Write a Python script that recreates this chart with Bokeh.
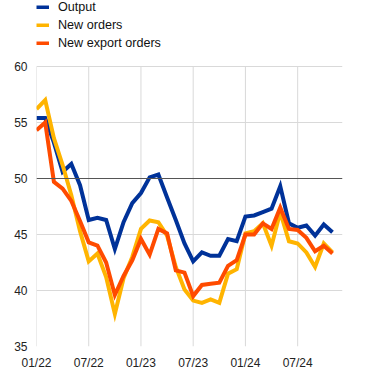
from bokeh.plotting import figure
from bokeh.models import ColumnDataSource, FixedTicker, Span, Legend, LegendItem, Range1d
from bokeh.embed import file_html
from bokeh.resources import INLINE

months = list(range(35))
tick_positions = [0, 6, 12, 18, 24, 30]
tick_labels = ["01/22", "07/22", "01/23", "07/23", "01/24", "07/24"]
y_ticks = [35, 40, 45, 50, 55, 60]
y_min, y_max = 35, 60

output = [55.4, 55.4, 53.2, 50.6, 51.3, 49.4, 46.3, 46.5, 46.3, 43.7, 46.1, 47.8,
          48.7, 50.1, 50.35, 48.3, 46.3, 44.2, 42.6, 43.4, 43.1, 43.1, 44.6, 44.4,
          46.6, 46.7, 47.0, 47.3, 49.3, 46.0, 45.6, 45.8, 44.9, 45.9, 45.2]
new_orders = [56.2, 57.0, 53.6, 51.2, 48.5, 45.3, 42.6, 43.3, 41.2, 37.9, 41.1, 43.0,
              45.5, 46.25, 46.1, 44.9, 42.1, 40.1, 39.1, 38.9, 39.2, 38.9, 41.5, 41.9,
              45.1, 45.3, 46.0, 44.0, 47.0, 44.4, 44.2, 43.4, 42.1, 44.2, 43.4]
new_export_orders = [54.3, 55.0, 49.7, 49.1, 48.0, 46.2, 44.3, 44.0, 42.5, 39.6, 41.3, 42.7,
                     44.6, 43.2, 45.5, 45.1, 41.8, 41.6, 39.5, 40.5, 40.6, 40.7, 42.2, 42.7,
                     45.0, 45.0, 46.0, 45.5, 47.4, 45.5, 45.4, 44.7, 43.5, 44.0, 43.3]

series_names = ["Output", "New orders", "New export orders"]
colors = ["#003299", "#FFB400", "#FF4B00"]

src = ColumnDataSource(dict(x=months, output=output, new_orders=new_orders,
                            new_export_orders=new_export_orders))

# frame spans full height above the axis; extra headroom holds the legend
top_extra = (y_max - y_min) * 66 / 280
p = figure(width=371, height=374, output_backend="svg", toolbar_location=None,
           x_range=Range1d(0, 35.15), y_range=Range1d(y_min, y_max + top_extra),
           min_border_left=36, min_border_right=29, min_border_top=0, min_border_bottom=28)
p.outline_line_color = None
p.background_fill_color = "white"
p.border_fill_color = "white"

FONT = "Liberation Sans"
for ax in (p.xaxis, p.yaxis):
    ax.axis_line_color = None
    ax.major_tick_line_color = None
    ax.minor_tick_line_color = None
    ax.major_tick_out = 0
    ax.major_tick_in = 0
    ax.minor_tick_out = 0
    ax.major_label_text_font = FONT
    ax.major_label_text_font_size = "12px"
    ax.major_label_text_color = "#222222"
p.xaxis.ticker = FixedTicker(ticks=tick_positions)
p.xaxis.major_label_overrides = {t: l for t, l in zip(tick_positions, tick_labels)}
p.xaxis.major_label_standoff = 9
p.yaxis.ticker = FixedTicker(ticks=y_ticks)
p.yaxis.major_label_standoff = 9

p.xgrid.visible = False
p.ygrid.ticker = FixedTicker(ticks=[t for t in y_ticks if t != 50])
p.ygrid.grid_line_color = "#d9d9d9"
p.segment(x0=tick_positions, y0=[y_min] * len(tick_positions),
          x1=tick_positions, y1=[y_max] * len(tick_positions),
          line_color="#d9d9d9", line_width=1)
p.add_layout(Span(location=50, dimension="width", line_color="#555555", line_width=1))

renderers = []
for col, c in zip(["output", "new_orders", "new_export_orders"], colors):
    r = p.line("x", col, source=src, line_color=c, line_width=4, line_join="miter")
    renderers.append(r)

legend = Legend(items=[LegendItem(label=n, renderers=[r]) for n, r in zip(series_names, renderers)],
                location="top_left", padding=0, margin=0, spacing=4,
                glyph_width=13, glyph_height=4, label_height=13, label_standoff=9,
                label_text_font=FONT, label_text_font_size="12.6px", label_text_color="#111111",
                background_fill_alpha=0, border_line_color=None)
p.add_layout(legend, "center")

open("out.html", "w").write(file_html(p, INLINE))
